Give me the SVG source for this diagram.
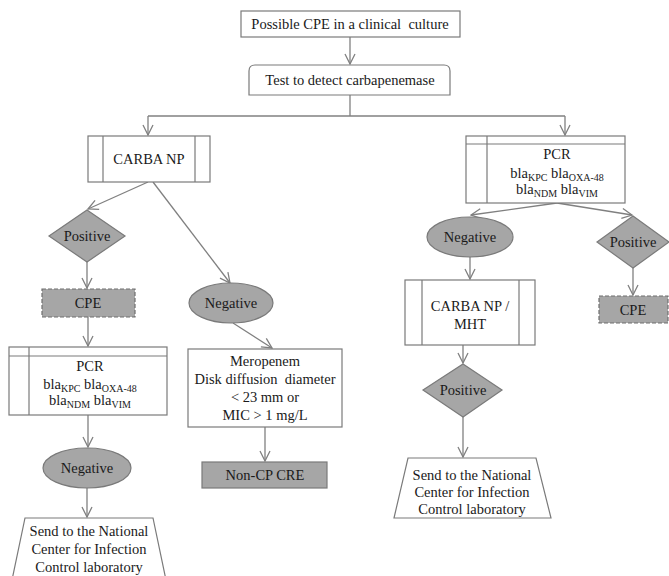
<svg xmlns="http://www.w3.org/2000/svg" width="669" height="576" viewBox="0 0 669 576">
<style>
text{font-family:"Liberation Serif","Times New Roman",serif;font-size:14.5px;fill:#1a1a1a;text-anchor:middle}
.box{fill:#fff;stroke:#7a7a7a;stroke-width:1.2}
.gray{fill:#a6a6a6;stroke:#7a7a7a;stroke-width:1.2}
.dash{fill:#a6a6a6;stroke:#6e6e6e;stroke-width:1.2;stroke-dasharray:4 2}
.ln{fill:none;stroke:#7a7a7a;stroke-width:1.2}
.con{fill:none;stroke:#808080;stroke-width:1.3}
.sub{font-size:10px}
</style>
<defs>
<marker id="arr" viewBox="0 0 12 12" refX="11" refY="6" markerWidth="12" markerHeight="12" markerUnits="userSpaceOnUse" orient="auto">
<path d="M1,1 L11,6 L1,11" fill="none" stroke="#808080" stroke-width="1.3"/>
</marker>
</defs>
<g id="connectors">
<line class="con" x1="350" y1="37" x2="350" y2="64" marker-end="url(#arr)"/>
<polyline class="con" points="350,95 350,116"/>
<line class="con" x1="148" y1="116" x2="565" y2="116"/>
<line class="con" x1="148" y1="116" x2="148" y2="135" marker-end="url(#arr)"/>
<line class="con" x1="565" y1="116" x2="565" y2="135" marker-end="url(#arr)"/>
<line class="con" x1="148" y1="182" x2="88" y2="209" marker-end="url(#arr)"/>
<line class="con" x1="153" y1="182" x2="230" y2="283" marker-end="url(#arr)"/>
<line class="con" x1="87" y1="262" x2="87" y2="288" marker-end="url(#arr)"/>
<line class="con" x1="88" y1="317" x2="88" y2="346" marker-end="url(#arr)"/>
<line class="con" x1="88" y1="415" x2="88" y2="447" marker-end="url(#arr)"/>
<line class="con" x1="87" y1="488" x2="87" y2="517" marker-end="url(#arr)"/>
<line class="con" x1="233" y1="323" x2="272" y2="348" marker-end="url(#arr)"/>
<line class="con" x1="265" y1="427" x2="265" y2="461" marker-end="url(#arr)"/>
<line class="con" x1="557" y1="203" x2="471" y2="215" marker-end="url(#arr)"/>
<line class="con" x1="557" y1="203" x2="632" y2="215" marker-end="url(#arr)"/>
<line class="con" x1="633" y1="268" x2="633" y2="295" marker-end="url(#arr)"/>
<line class="con" x1="470" y1="257" x2="470" y2="279" marker-end="url(#arr)"/>
<line class="con" x1="463" y1="345" x2="463" y2="363" marker-end="url(#arr)"/>
<line class="con" x1="463" y1="417" x2="463" y2="457" marker-end="url(#arr)"/>
</g>
<g id="n-start">
<rect class="box" x="241" y="11" width="219" height="26"/>
<text x="350" y="29" xml:space="preserve">Possible CPE in a clinical  culture</text>
</g>
<g id="n-test">
<path class="box" d="M249,95 V71 Q249,65 255,65 H444 Q450,65 450,71 V95 Z"/>
<text x="350" y="85">Test to detect carbapenemase</text>
</g>
<g id="n-carba">
<rect class="box" x="88" y="136" width="122" height="46"/>
<line class="ln" x1="103" y1="136" x2="103" y2="182"/>
<line class="ln" x1="195" y1="136" x2="195" y2="182"/>
<text x="149" y="164">CARBA NP</text>
</g>
<g id="n-pos1">
<polygon class="gray" points="87,210 125,236 87,262 49,236"/>
<text x="87" y="241">Positive</text>
</g>
<g id="n-cpe1">
<rect class="dash" x="42" y="289" width="93" height="28"/>
<text x="88" y="308">CPE</text>
</g>
<g id="n-pcr1">
<rect class="box" x="9" y="347" width="158" height="68"/>
<line class="ln" x1="29" y1="347" x2="29" y2="415"/>
<line class="ln" x1="9" y1="356" x2="167" y2="356"/>
<text x="90" y="371">PCR</text>
<text x="90" y="389">bla<tspan class="sub" dy="3">KPC</tspan><tspan dy="-3"> bla</tspan><tspan class="sub" dy="3">OXA-48</tspan></text>
<text x="90" y="405">bla<tspan class="sub" dy="3">NDM</tspan><tspan dy="-3"> bla</tspan><tspan class="sub" dy="3">VIM</tspan></text>
</g>
<g id="n-neg1">
<ellipse class="gray" cx="87" cy="468" rx="44" ry="20"/>
<text x="87" y="473">Negative</text>
</g>
<g id="n-send1">
<polygon class="box" points="25,518 153,518 166,580 12,580"/>
<text x="89" y="536">Send to the National</text>
<text x="89" y="554">Center for Infection</text>
<text x="89" y="572">Control laboratory</text>
</g>
<g id="n-neg2">
<ellipse class="gray" cx="231" cy="303" rx="42" ry="20"/>
<text x="231" y="308">Negative</text>
</g>
<g id="n-mero">
<rect class="box" x="188" y="349" width="154" height="78"/>
<text x="265" y="366">Meropenem</text>
<text x="265" y="384" xml:space="preserve">Disk diffusion  diameter</text>
<text x="265" y="402">&lt; 23 mm or</text>
<text x="265" y="420">MIC &gt; 1 mg/L</text>
</g>
<g id="n-noncp">
<rect class="gray" x="202" y="462" width="125" height="26"/>
<text x="265" y="480">Non-CP CRE</text>
</g>
<g id="n-pcr2">
<rect class="box" x="466" y="136" width="159" height="67"/>
<line class="ln" x1="487" y1="136" x2="487" y2="203"/>
<line class="ln" x1="466" y1="144" x2="625" y2="144"/>
<text x="557" y="159">PCR</text>
<text x="557" y="178">bla<tspan class="sub" dy="3">KPC</tspan><tspan dy="-3"> bla</tspan><tspan class="sub" dy="3">OXA-48</tspan></text>
<text x="557" y="194">bla<tspan class="sub" dy="3">NDM</tspan><tspan dy="-3"> bla</tspan><tspan class="sub" dy="3">VIM</tspan></text>
</g>
<g id="n-neg3">
<ellipse class="gray" cx="470" cy="237" rx="43" ry="20"/>
<text x="470" y="242">Negative</text>
</g>
<g id="n-pos2">
<polygon class="gray" points="633,216 669,242 633,268 597,242"/>
<text x="633" y="247">Positive</text>
</g>
<g id="n-cpe2">
<rect class="dash" x="599" y="296" width="69" height="27"/>
<text x="633" y="315">CPE</text>
</g>
<g id="n-carbamht">
<rect class="box" x="405" y="280" width="130" height="65"/>
<line class="ln" x1="422" y1="280" x2="422" y2="345"/>
<line class="ln" x1="519" y1="280" x2="519" y2="345"/>
<text x="470" y="311">CARBA NP /</text>
<text x="470" y="329">MHT</text>
</g>
<g id="n-pos3">
<polygon class="gray" points="463,364 502,390 463,417 423,390"/>
<text x="463" y="395">Positive</text>
</g>
<g id="n-send2">
<polygon class="box" points="408,458 536,458 551,518 394,518"/>
<text x="472" y="480">Send to the National</text>
<text x="472" y="497">Center for Infection</text>
<text x="472" y="514">Control laboratory</text>
</g>
</svg>
